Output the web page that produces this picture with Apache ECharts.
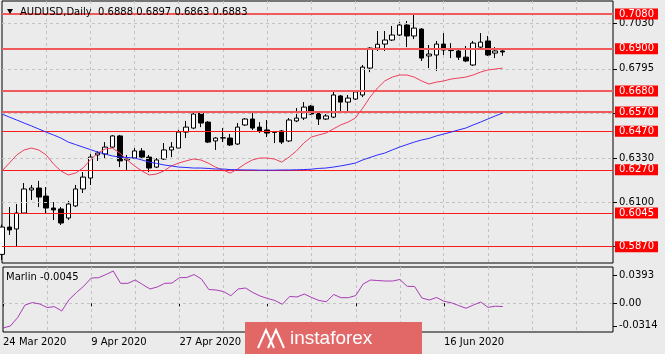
<!DOCTYPE html>
<html><head><meta charset="utf-8">
<script src="https://cdn.jsdelivr.net/npm/echarts@6/dist/echarts.min.js"></script>
<style>html,body{margin:0;padding:0;background:#ebebeb}#c{width:665px;height:354px}</style>
</head><body><div id="c"></div>
<script>
const symbolName = 'AUDUSD,Daily';
const indicatorName = 'Marlin';
const dates = ['24 Mar 2020','25 Mar 2020','26 Mar 2020','27 Mar 2020','30 Mar 2020','31 Mar 2020','1 Apr 2020','2 Apr 2020','3 Apr 2020','6 Apr 2020',
'7 Apr 2020','8 Apr 2020','9 Apr 2020','10 Apr 2020','13 Apr 2020','14 Apr 2020','15 Apr 2020','16 Apr 2020','17 Apr 2020','20 Apr 2020',
'21 Apr 2020','22 Apr 2020','23 Apr 2020','24 Apr 2020','27 Apr 2020','28 Apr 2020','29 Apr 2020','30 Apr 2020','1 May 2020','4 May 2020',
'5 May 2020','6 May 2020','7 May 2020','8 May 2020','11 May 2020','12 May 2020','13 May 2020','14 May 2020','15 May 2020','18 May 2020',
'19 May 2020','20 May 2020','21 May 2020','22 May 2020','25 May 2020','26 May 2020','27 May 2020','28 May 2020','29 May 2020','1 Jun 2020',
'2 Jun 2020','3 Jun 2020','4 Jun 2020','5 Jun 2020','8 Jun 2020','9 Jun 2020','10 Jun 2020','11 Jun 2020','12 Jun 2020','15 Jun 2020',
'16 Jun 2020','17 Jun 2020','18 Jun 2020','19 Jun 2020','22 Jun 2020','23 Jun 2020','24 Jun 2020','25 Jun 2020','26 Jun 2020'];
const opens = [0.5830,0.5972,0.5962,0.6045,0.6165,0.6175,0.6133,0.6071,0.6066,0.6019,
0.6082,0.6170,0.6227,0.6347,0.6352,0.6388,0.6446,0.6321,0.6331,0.6368,
0.6336,0.6284,0.6326,0.6373,0.6383,0.6466,0.6487,0.6565,0.6518,0.6420,
0.6435,0.6435,0.6404,0.6503,0.6534,0.6492,0.6477,0.6467,0.6472,0.6420,
0.6524,0.6539,0.6601,0.6570,0.6534,0.6544,0.6654,0.6622,0.6638,0.6659,
0.6799,0.6903,0.6924,0.6945,0.6971,0.7023,0.6966,0.7002,0.6862,0.6867,
0.6924,0.6890,0.6888,0.6856,0.6815,0.6908,0.6940,0.6877,0.6888];
const highs = [0.5985,0.6076,0.6092,0.6201,0.6191,0.6212,0.6180,0.6102,0.6076,0.6108,
0.6191,0.6258,0.6352,0.6367,0.6414,0.6450,0.6451,0.6347,0.6383,0.6383,
0.6347,0.6331,0.6409,0.6414,0.6477,0.6524,0.6565,0.6576,0.6523,0.6440,
0.6487,0.6456,0.6513,0.6539,0.6565,0.6518,0.6529,0.6470,0.6477,0.6539,
0.6591,0.6622,0.6607,0.6575,0.6560,0.6685,0.6659,0.6659,0.6685,0.6815,
0.6908,0.6992,0.6992,0.7018,0.7038,0.7044,0.7075,0.7007,0.6919,0.6940,
0.6981,0.6929,0.6903,0.6914,0.6940,0.6981,0.6966,0.6908,0.6897];
const lows = [0.5801,0.5931,0.5869,0.6040,0.6113,0.6076,0.6045,0.6009,0.5983,0.6009,
0.6076,0.6149,0.6191,0.6316,0.6331,0.6383,0.6284,0.6269,0.6326,0.6331,
0.6258,0.6279,0.6321,0.6336,0.6383,0.6435,0.6482,0.6492,0.6409,0.6373,
0.6414,0.6394,0.6399,0.6498,0.6477,0.6461,0.6440,0.6409,0.6404,0.6414,
0.6518,0.6529,0.6555,0.6503,0.6529,0.6539,0.6570,0.6570,0.6633,0.6648,
0.6778,0.6888,0.6888,0.6940,0.6966,0.6908,0.6950,0.6836,0.6799,0.6784,
0.6867,0.6851,0.6841,0.6830,0.6810,0.6903,0.6862,0.6851,0.6863];
const closes = [0.5972,0.5957,0.6045,0.6170,0.6175,0.6128,0.6071,0.6061,0.5993,0.6092,
0.6170,0.6232,0.6336,0.6357,0.6388,0.6446,0.6316,0.6331,0.6368,0.6336,
0.6279,0.6321,0.6373,0.6388,0.6466,0.6492,0.6560,0.6513,0.6414,0.6435,
0.6437,0.6399,0.6492,0.6534,0.6487,0.6472,0.6461,0.6465,0.6414,0.6529,
0.6539,0.6596,0.6560,0.6534,0.6550,0.6659,0.6622,0.6643,0.6675,0.6804,
0.6903,0.6923,0.6945,0.6971,0.7023,0.6966,0.7007,0.6851,0.6872,0.6924,
0.6893,0.6892,0.6856,0.6836,0.6929,0.6934,0.6867,0.6888,0.6883];
const maRed = [0.6264,0.6305,0.6347,0.6373,0.6383,0.6373,0.6347,0.6300,0.6264,0.6243,
0.6253,0.6279,0.6321,0.6357,0.6378,0.6383,0.6357,0.6321,0.6290,0.6264,
0.6243,0.6248,0.6264,0.6290,0.6305,0.6316,0.6326,0.6321,0.6305,0.6284,
0.6269,0.6253,0.6274,0.6300,0.6321,0.6331,0.6331,0.6326,0.6310,0.6336,
0.6368,0.6409,0.6440,0.6451,0.6461,0.6482,0.6503,0.6518,0.6539,0.6591,
0.6648,0.6695,0.6732,0.6752,0.6763,0.6763,0.6752,0.6732,0.6716,0.6726,
0.6732,0.6742,0.6747,0.6752,0.6763,0.6778,0.6789,0.6794,0.6799];
const maBlue = [0.6560,0.6544,0.6529,0.6513,0.6498,0.6482,0.6466,0.6451,0.6435,0.6414,
0.6401,0.6388,0.6375,0.6362,0.6352,0.6342,0.6336,0.6334,0.6331,0.6321,
0.6310,0.6303,0.6295,0.6290,0.6284,0.6282,0.6279,0.6279,0.6277,0.6274,
0.6274,0.6271,0.6270,0.6269,0.6269,0.6268,0.6268,0.6268,0.6269,0.6269,
0.6270,0.6271,0.6273,0.6277,0.6279,0.6284,0.6290,0.6297,0.6305,0.6321,
0.6334,0.6347,0.6357,0.6373,0.6388,0.6401,0.6414,0.6425,0.6433,0.6446,
0.6456,0.6466,0.6477,0.6487,0.6503,0.6518,0.6534,0.6550,0.6565];
const marlin = [-0.0343,-0.0316,-0.0197,-0.0024,0.0011,-0.0010,-0.0058,-0.0047,-0.0107,0.0053,
0.0150,0.0240,0.0352,0.0356,0.0400,0.0449,0.0278,0.0278,0.0324,0.0261,
0.0199,0.0227,0.0278,0.0282,0.0356,0.0359,0.0400,0.0338,0.0192,0.0185,
0.0164,0.0106,0.0199,0.0213,0.0150,0.0101,0.0067,0.0039,-0.0014,0.0095,
0.0088,0.0129,0.0081,0.0039,0.0022,0.0122,0.0078,0.0078,0.0108,0.0268,
0.0324,0.0317,0.0310,0.0310,0.0331,0.0236,0.0234,0.0074,0.0046,0.0081,
0.0028,0.0008,-0.0031,-0.0069,-0.0024,0.0018,-0.0056,-0.0040,-0.0045];
const levels = [0.7080,0.6900,0.6680,0.6570,0.6470,0.6270,0.6045,0.5870];
const priceTicks = [0.7030,0.6795,0.6565,0.6330,0.6100,0.5870];
const marlinTicks = [0.0393,0,-0.0314];
const emptySlots = 15;

const cats = dates.concat(new Array(emptySlots).fill(''));
const n = dates.length;
const last = n - 1;
const FONT = 'DejaVu Sans';
const GL = 2, GR = 52;
const gridColor = '#c3c3c3';

const chart = echarts.init(document.getElementById('c'), null, {renderer:'canvas'});
const candleData = opens.map((o,i)=>[o, closes[i], lows[i], highs[i]]);
const titleText = symbolName + '  ' + [opens[last],highs[last],lows[last],closes[last]].map(v=>v.toFixed(4)).join(' ');

const option = {
  animation:false,
  backgroundColor:'#ebebeb',
  textStyle:{fontFamily:FONT},
  grid:[
    {left:GL,right:GR,top:1,height:262,show:true,borderColor:'#000',borderWidth:1,backgroundColor:'transparent'},
    {left:GL,right:GR,top:267,height:65,show:true,borderColor:'#000',borderWidth:1,backgroundColor:'transparent'}
  ],
  xAxis:[
    {type:'category',gridIndex:0,data:cats,boundaryGap:false,
     axisLine:{show:false},axisTick:{show:false},axisLabel:{show:false},
     splitLine:{show:true,interval:(i)=>i%6===0&&i>0,lineStyle:{color:gridColor,type:[3,3],width:1}}},
    {type:'category',gridIndex:1,data:cats,boundaryGap:false,
     axisLine:{show:false},
     axisTick:{show:true,interval:(i,v)=>i%12===0&&v!=='',length:3,lineStyle:{color:'#000'}},
     axisLabel:{interval:(i,v)=>i%12===0&&v!=='',align:'left',margin:5,fontSize:10,color:'#000',fontFamily:FONT},
     splitLine:{show:true,interval:(i)=>i%6===0&&i>0,lineStyle:{color:gridColor,type:[3,3],width:1}}}
  ],
  yAxis:[
    {type:'value',gridIndex:0,position:'right',min:0.5785,max:0.7148,
     axisLine:{show:false},
     axisTick:{show:true,customValues:priceTicks,length:4,lineStyle:{color:'#000'}},
     axisLabel:{customValues:priceTicks,formatter:v=>Number(v).toFixed(4),margin:6,fontSize:10,color:'#000',fontFamily:FONT},
     splitLine:{show:false}},
    {type:'value',gridIndex:1,position:'right',min:-0.0399,max:0.0505,
     axisLine:{show:false},
     axisTick:{show:true,customValues:marlinTicks,length:4,lineStyle:{color:'#000'}},
     axisLabel:{customValues:marlinTicks,formatter:v=>(Number(v)===0?'0.00':Number(v).toFixed(4)),margin:6,fontSize:10,color:'#000',fontFamily:FONT},
     splitLine:{show:false}}
  ],
  series:[
    {name:'gridH',type:'line',xAxisIndex:0,yAxisIndex:0,data:[],z:1,silent:true,
     markLine:{silent:true,symbol:'none',animation:false,precision:4,label:{show:false},
       lineStyle:{color:gridColor,type:[3,3],width:1},
       data:priceTicks.map(v=>({yAxis:v}))}},
    {name:'bid',type:'line',xAxisIndex:0,yAxisIndex:0,data:[],z:2,silent:true,
     markLine:{silent:true,symbol:'none',animation:false,precision:4,
       lineStyle:{opacity:0},
       label:{show:true,position:'end',distance:2,formatter:p=>Number(p.value).toFixed(4),
         backgroundColor:'#000',color:'#fff',padding:[1,4,0,4],fontSize:10,fontFamily:FONT},
       data:[{yAxis:closes[last]}]}},
    {name:'levels',type:'line',xAxisIndex:0,yAxisIndex:0,data:[],z:3,silent:true,
     markLine:{silent:true,symbol:'none',animation:false,precision:4,
       label:{show:true,position:'end',distance:2,formatter:p=>Number(p.value).toFixed(4),
         backgroundColor:'#ff0000',color:'#fff',padding:[1,4,0,4],fontSize:10,fontFamily:FONT},
       data:levels.map((v,i)=>({yAxis:v,lineStyle:{color:i<4?'#f05a5a':'#ff1a1a',width:i<4?2:1,type:'solid'}}))}},
    {name:'price',type:'candlestick',xAxisIndex:0,yAxisIndex:0,data:candleData,barWidth:5,z:4,
     itemStyle:{color:'#ffffff',color0:'#000000',borderColor:'#000000',borderColor0:'#000000',borderWidth:1}},
    {name:'maRed',type:'line',xAxisIndex:0,yAxisIndex:0,data:maRed,z:5,symbol:'none',
     lineStyle:{color:'#ee3f5c',width:1}},
    {name:'maBlue',type:'line',xAxisIndex:0,yAxisIndex:0,data:maBlue,z:5,symbol:'none',
     lineStyle:{color:'#2b2bff',width:1}},
    {name:'marlin',type:'line',xAxisIndex:1,yAxisIndex:1,data:marlin,z:5,symbol:'none',
     lineStyle:{color:'#a93cb5',width:1},
     markLine:{silent:true,symbol:'none',animation:false,precision:4,label:{show:false},
       lineStyle:{color:gridColor,type:[3,3],width:1},data:[{yAxis:0}]}}
  ],
  graphic:[
    {type:'polygon',shape:{points:[[7,9],[13,9],[10,14]]},style:{fill:'#000'},z:10},
    {type:'text',x:20,y:12,style:{text:titleText,font:'10px "DejaVu Sans"',fill:'#000',verticalAlign:'middle'},z:10},
    {type:'text',x:6,y:277,style:{text:indicatorName+' '+marlin[last].toFixed(4),font:'10px "DejaVu Sans"',fill:'#000',verticalAlign:'middle'},z:10},
    {type:'group',z:100,children:[
      {type:'rect',shape:{x:245,y:322,width:177,height:34},style:{fill:'#e26868'},z:100},
      {type:'polyline',shape:{points:[[258,348],[266,330],[274,348]]},style:{stroke:'#fff',lineWidth:2,fill:null},z:101},
      {type:'polyline',shape:{points:[[268,348],[276,330],[284,348]]},style:{stroke:'#fff',lineWidth:2,fill:null},z:101},
      {type:'text',x:290,y:339,style:{text:'instaforex',font:'19px "Liberation Sans"',fill:'#fff',verticalAlign:'middle'},z:101}
    ]}
  ]
};
chart.setOption(option);
</script>
</body></html>
